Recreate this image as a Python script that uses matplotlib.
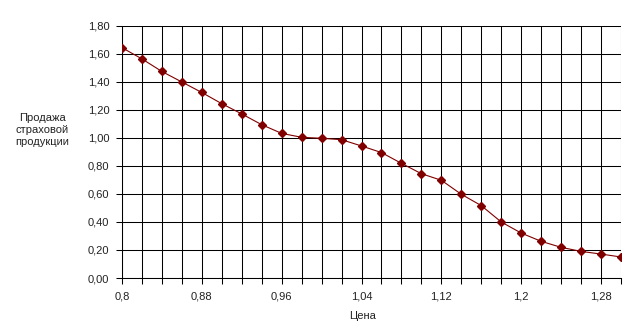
import matplotlib.pyplot as plt
import numpy as np

# price categories and sales of insurance products
price = [0.80, 0.82, 0.84, 0.86, 0.88, 0.90, 0.92, 0.94, 0.96, 0.98, 1.00, 1.02, 1.04,
         1.06, 1.08, 1.10, 1.12, 1.14, 1.16, 1.18, 1.20, 1.22, 1.24, 1.26, 1.28, 1.30]
sales = [1.645, 1.565, 1.475, 1.40, 1.325, 1.245, 1.172, 1.095, 1.033, 1.005, 0.998, 0.988, 0.943,
         0.896, 0.819, 0.745, 0.698, 0.598, 0.517, 0.40, 0.321, 0.262, 0.219, 0.19, 0.171, 0.15]
label_every = 4

plt.rcParams['font.family'] = ['Liberation Sans', 'DejaVu Sans']

fig = plt.figure(figsize=(6.4, 3.33), dpi=100)
ax = fig.add_axes([122/640, 1 - 278/333, (621-122)/640, (278-26)/333])

ax.plot(price, sales, '-', color='#800000', lw=0.8, marker='D', ms=4.5,
        markerfacecolor='#800000', markeredgecolor='#800000', zorder=3)

ax.set_xlim(price[0], price[-1])
ax.set_ylim(0, 1.8)
ax.set_xticks(price)
ax.set_xticklabels([('%g' % p).replace('.', ',') if i % label_every == 0 else ''
                    for i, p in enumerate(price)])
yt = np.arange(0, 1.81, 0.2)
ax.set_yticks(yt)
ax.set_yticklabels([('%.2f' % v).replace('.', ',') for v in yt])

ax.grid(True, color='black', lw=0.75)
ax.set_axisbelow(True)
for s in ['top', 'right']:
    ax.spines[s].set_visible(False)
for s in ['left', 'bottom']:
    ax.spines[s].set_color('black')
    ax.spines[s].set_linewidth(0.75)
ax.tick_params(direction='out', length=4, width=0.75, colors='black', labelsize=8,
               labelcolor='#222222')
ax.tick_params(axis='x', pad=6)
ax.tick_params(axis='y', pad=5)

fig.text(363/640, 1 - 316/333, 'Цена', ha='center', va='center', fontsize=8, color='#222222')
fig.text(42/640, 1 - 130/333, 'Продажа\nстраховой\nпродукции', ha='center', va='center',
         fontsize=8, color='#222222', linespacing=1.25)

fig.savefig('out.png', dpi=100)
